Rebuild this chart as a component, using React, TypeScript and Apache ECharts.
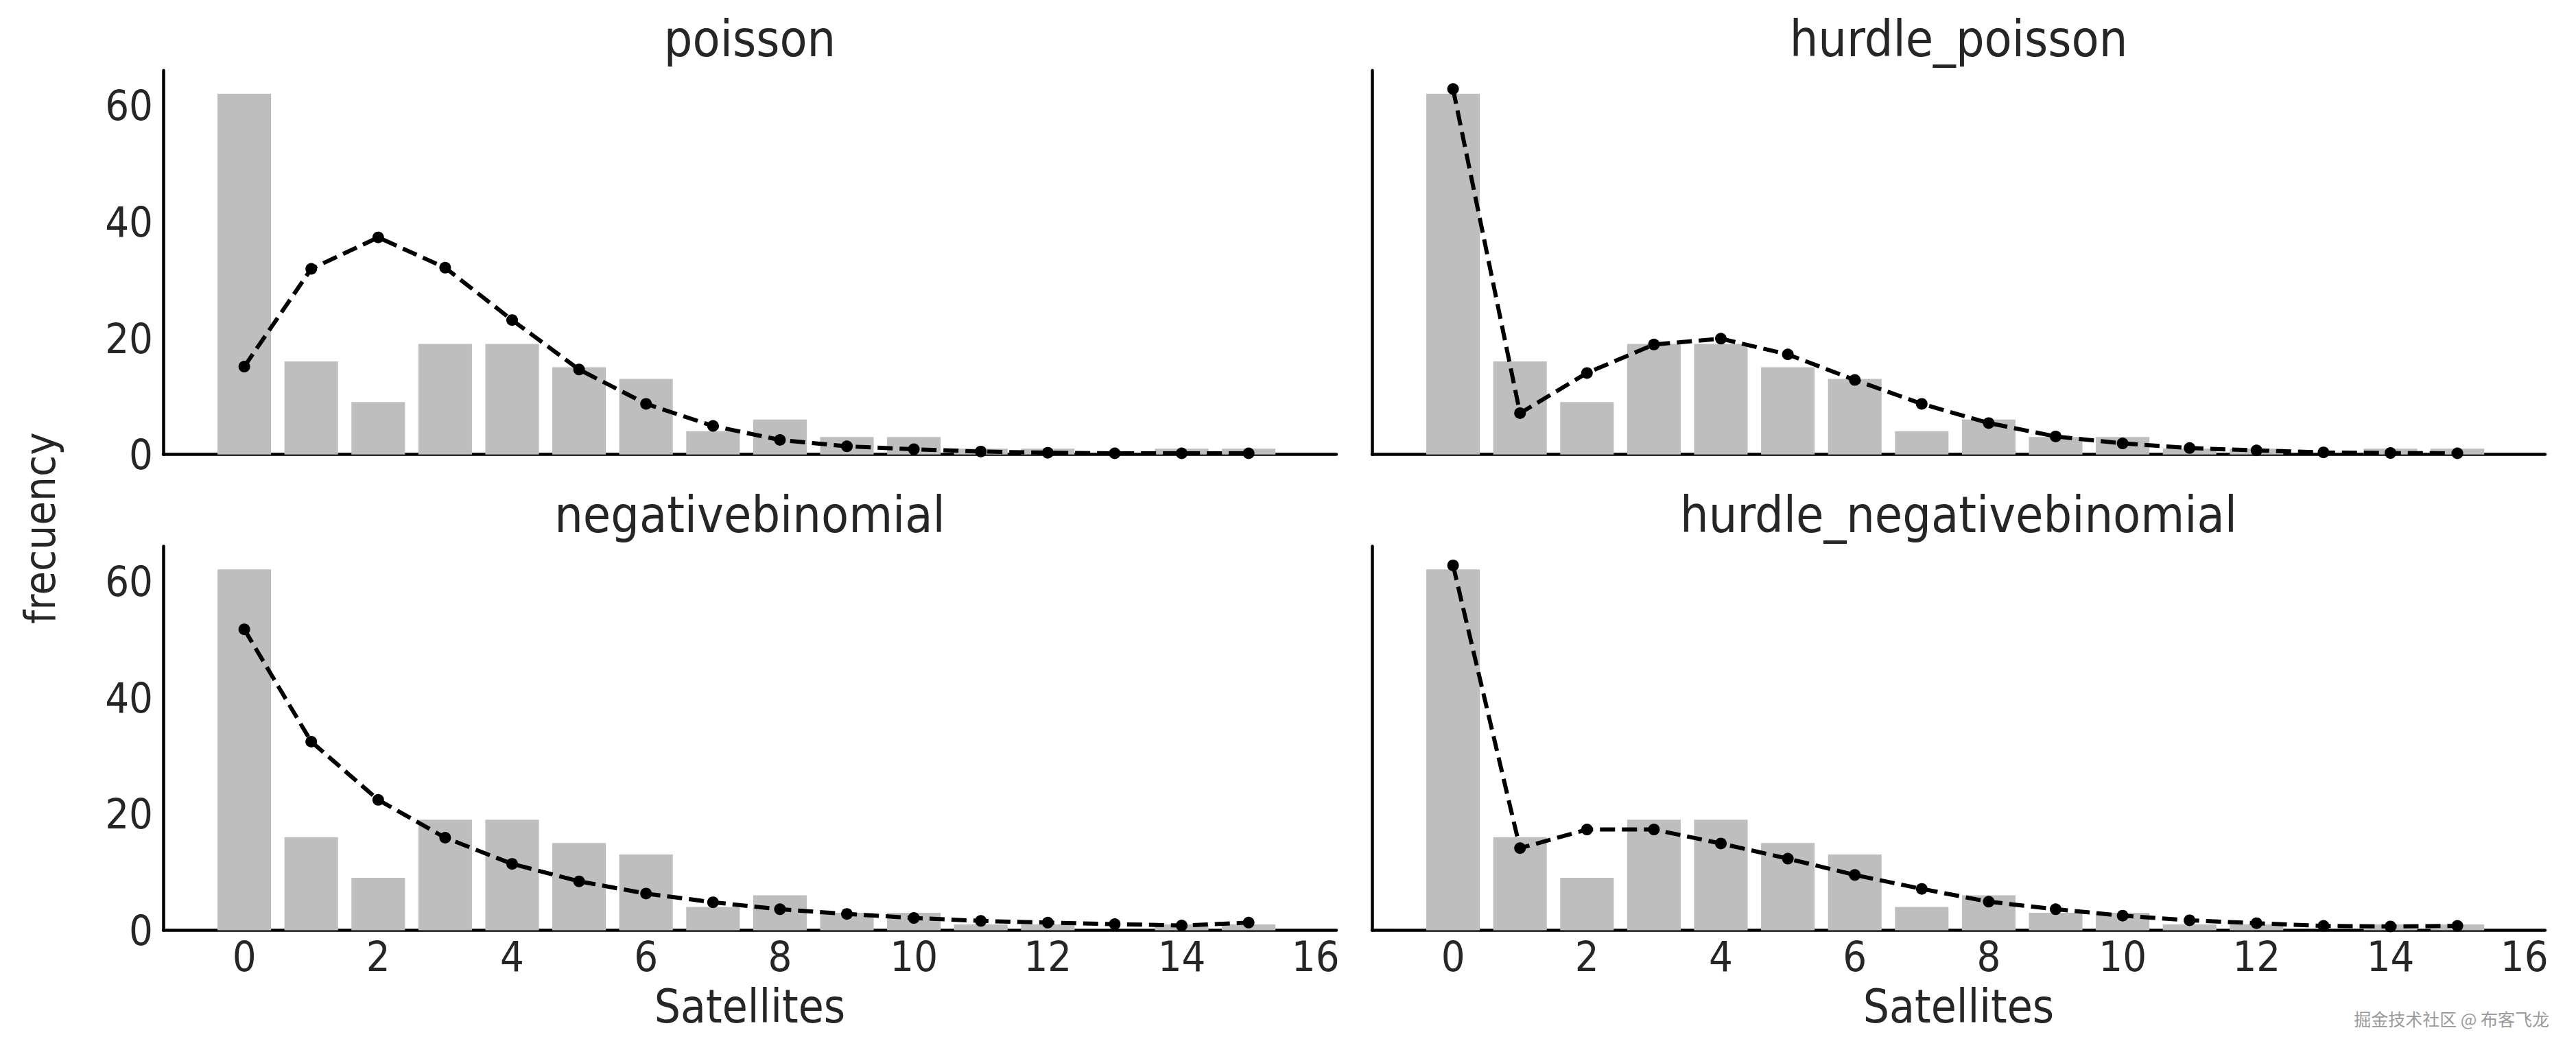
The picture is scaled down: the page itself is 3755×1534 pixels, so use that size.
import React, { useEffect, useRef } from "react";
import * as echarts from "echarts";

const satellites = [0, 1, 2, 3, 4, 5, 6, 7, 8, 9, 10, 11, 12, 13, 14, 15];
const observed = [62, 16, 9, 19, 19, 15, 13, 4, 6, 3, 3, 1, 1, 0, 1, 1];
const poisson = [15.1, 31.9, 37.3, 32.1, 23.1, 14.6, 8.7, 4.9, 2.5, 1.4, 0.9, 0.5, 0.3, 0.2, 0.2, 0.2];
const hurdlePoisson = [62.8, 7.1, 14.0, 18.9, 19.9, 17.2, 12.8, 8.7, 5.4, 3.1, 1.9, 1.1, 0.7, 0.35, 0.25, 0.2];
const negativeBinomial = [51.7, 32.4, 22.4, 15.9, 11.4, 8.4, 6.3, 4.8, 3.6, 2.8, 2.1, 1.6, 1.3, 1.05, 0.8, 1.3];
const hurdleNegativeBinomial = [62.7, 14.1, 17.3, 17.3, 14.9, 12.3, 9.5, 7.1, 4.9, 3.6, 2.5, 1.7, 1.2, 0.74, 0.65, 0.74];
const panelTitles = ["poisson", "hurdle_poisson", "negativebinomial", "hurdle_negativebinomial"];
const yTicks = [0, 20, 40, 60];
const xTicks = [0, 2, 4, 6, 8, 10, 12, 14, 16];

const FONT = "'DejaVu Sans Condensed', 'DejaVu Sans', sans-serif";
const TEXT = "#262626";

export default function App() {
  const ref = useRef<HTMLDivElement>(null);
  useEffect(() => {
    if (!ref.current) return;
    const chart = echarts.init(ref.current, null, { renderer: "svg" });
    const predicted = [poisson, hurdlePoisson, negativeBinomial, hurdleNegativeBinomial];
    const W = 1710;
    const H = 560;
    const lefts = [238, 2000, 238, 2000];
    const tops = [102.7, 102.7, 796.4, 796.4];
    const grids = lefts.map((l, i) => ({ left: l, top: tops[i], width: W, height: H }));
    const xAxes = grids.map((_, i) => ({
      type: "value",
      gridIndex: i,
      min: -1.21,
      max: 16.31,
      splitNumber: 8,
      minInterval: 2,
      maxInterval: 2,
      axisLine: { show: true, onZero: false, lineStyle: { color: "#000", width: 4.5 } },
      axisTick: { show: false },
      splitLine: { show: false },
      axisLabel: {
        show: i >= 2,
        fontFamily: FONT,
        fontSize: 61,
        color: TEXT,
        margin: 8,
        showMinLabel: false,
        showMaxLabel: false,
        formatter: (v: number) => (xTicks.indexOf(v) >= 0 ? String(v) : ""),
      },
    }));
    const yAxes = grids.map((_, i) => ({
      type: "value",
      gridIndex: i,
      min: 0,
      max: 66,
      interval: 20,
      axisLine: { show: true, onZero: false, lineStyle: { color: "#000", width: 4.5 } },
      axisTick: { show: false },
      splitLine: { show: false },
      axisLabel: {
        show: i % 2 === 0,
        fontFamily: FONT,
        fontSize: 61,
        color: TEXT,
        margin: 15,
        showMaxLabel: false,
        formatter: (v: number) => (yTicks.indexOf(v) >= 0 ? String(v) : ""),
      },
    }));
    const series: any[] = [];
    predicted.forEach((pred, i) => {
      series.push({
        type: "bar",
        xAxisIndex: i,
        yAxisIndex: i,
        data: satellites.map((s, k) => [s, observed[k]]),
        barWidth: "80%",
        itemStyle: { color: "#bebebe" },
      });
      series.push({
        type: "line",
        xAxisIndex: i,
        yAxisIndex: i,
        data: satellites.map((s, k) => [s, pred[k]]),
        symbol: "circle",
        symbolSize: 17,
        itemStyle: { color: "#000" },
        lineStyle: { color: "#000", width: 6, type: [22, 10] },
        z: 5,
      });
    });
    const centers = lefts.map((l) => l + W / 2);
    const titleY = [56, 56, 750, 750];
    const graphic: any[] = panelTitles.map((t, i) => ({
      type: "text",
      x: centers[i],
      y: titleY[i],
      style: { text: t, fontFamily: FONT, fontSize: 73, fill: TEXT, align: "center", verticalAlign: "middle" },
    }));
    [2, 3].forEach((i) => {
      graphic.push({
        type: "text",
        x: centers[i],
        y: 1468,
        style: { text: "Satellites", fontFamily: FONT, fontSize: 67, fill: TEXT, align: "center", verticalAlign: "middle" },
      });
    });
    graphic.push({
      type: "text",
      x: 58,
      y: 770,
      rotation: Math.PI / 2,
      style: { text: "frecuency", fontFamily: FONT, fontSize: 63, fill: TEXT, align: "center", verticalAlign: "middle" },
    });
    graphic.push({
      type: "text",
      x: 3716,
      y: 1485,
      style: {
        text: "掘金技术社区 @ 布客飞龙",
        fontFamily: "'Noto Sans CJK SC', sans-serif",
        fontSize: 25,
        fill: "#9a9a9a",
        align: "right",
        verticalAlign: "middle",
      },
    });
    chart.setOption({
      animation: false,
      backgroundColor: "#fff",
      grid: grids,
      xAxis: xAxes,
      yAxis: yAxes,
      series,
      graphic,
    });
    return () => chart.dispose();
  }, []);
  return <div ref={ref} style={{ position: "fixed", left: 0, top: 0, width: 3755, height: 1534 }} />;
}
